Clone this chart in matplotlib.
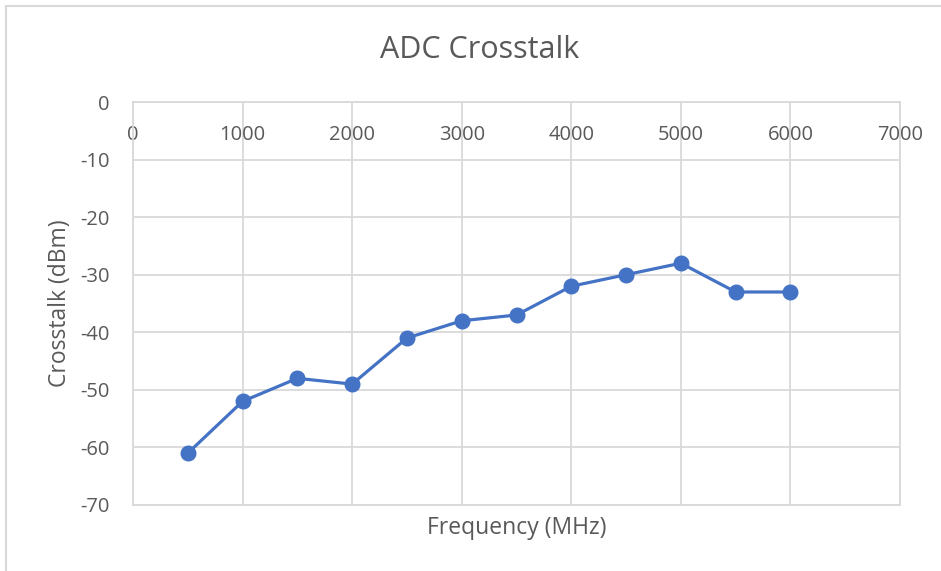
import matplotlib.pyplot as plt
from matplotlib.patches import Rectangle

# data
freq_mhz = [500, 1000, 1500, 2000, 2500, 3000, 3500, 4000, 4500, 5000, 5500, 6000]
crosstalk_dbm = [-61, -52, -48, -49, -41, -38, -37, -32, -30, -28, -33, -33]
x_ticks = [0, 1000, 2000, 3000, 4000, 5000, 6000, 7000]
y_ticks = [0, -10, -20, -30, -40, -50, -60, -70]

plt.rcParams['font.family'] = ['Open Sans', 'DejaVu Sans']
plt.rcParams['axes.unicode_minus'] = False

grid_col = '#d9d9d9'
text_col = '#595959'
line_col = '#4472c4'

fig = plt.figure(figsize=(9.41, 5.71), dpi=100)
ax = fig.add_axes([133 / 941, 1 - 505 / 571, 767 / 941, 403 / 571])

# outer chart border (top and left visible, rest is cropped)
fig.patches.append(Rectangle((6 / 941, -0.1), 1.2, 1.1 - 6 / 571, transform=fig.transFigure,
                             fill=False, edgecolor=grid_col, linewidth=1.5))

ax.plot(freq_mhz, crosstalk_dbm, color=line_col, linewidth=2.3, marker='o',
        markersize=10.5, markerfacecolor=line_col, markeredgecolor=line_col, zorder=3)

ax.set_xlim(0, 7000)
ax.set_ylim(-70, 0)
ax.set_xticks(x_ticks)
ax.set_yticks(y_ticks)
ax.grid(True, color=grid_col, linewidth=1.3)
ax.set_axisbelow(True)
for s in ax.spines.values():
    s.set_color(grid_col)
    s.set_linewidth(1.3)

ax.tick_params(axis='x', which='both', length=0, labeltop=True, labelbottom=False,
               top=False, bottom=False, pad=-31, labelsize=14.5, labelcolor=text_col)
ax.tick_params(axis='y', length=0, pad=17, labelsize=14.5, labelcolor=text_col)

fig.text(480 / 941, 1 - 50 / 571, 'ADC Crosstalk', fontsize=22, color=text_col,
         ha='center', va='center')
ax.set_xlabel('Frequency (MHz)', fontsize=16.5, color=text_col, labelpad=8)
ax.set_ylabel('Crosstalk (dBm)', fontsize=16.5, color=text_col, labelpad=6)

fig.savefig('out.png', dpi=100)
